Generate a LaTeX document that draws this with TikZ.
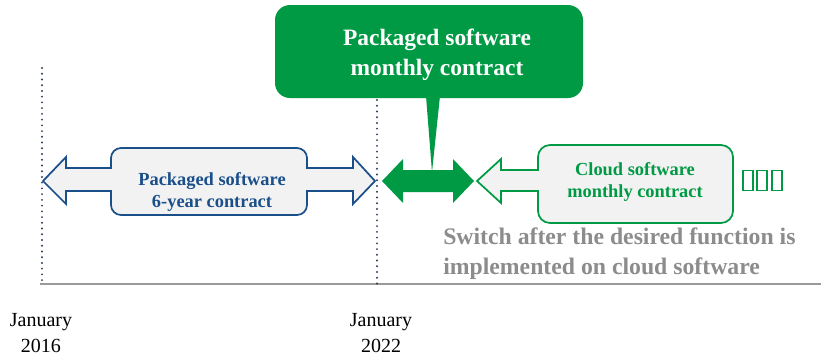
\documentclass[tikz,border=0pt]{standalone}
\usepackage{fontspec}
\setmainfont{Liberation Serif}
\definecolor{grn}{HTML}{009A44}
\definecolor{blu}{HTML}{1B4F8A}
\definecolor{lgray}{HTML}{F2F2F2}
\definecolor{txtgray}{HTML}{8C8C8C}
\definecolor{dotc}{HTML}{2E3C5C}
\definecolor{axisc}{HTML}{9A9A9A}
\tikzset{
  dotline/.style={dotc,line width=1.6pt,line cap=round,dash pattern=on 0pt off 4.3pt},
  bluetxt/.style={blu,align=center,inner sep=0pt,font=\bfseries\fontsize{13.8}{17.2}\selectfont},
  grntxt/.style={grn,align=center,inner sep=0pt,font=\bfseries\fontsize{13.8}{16.5}\selectfont},
  calltxt/.style={white,align=center,inner sep=0pt,font=\bfseries\fontsize{17.6}{22.5}\selectfont},
  graytxt/.style={txtgray,align=left,inner sep=0pt,font=\bfseries\fontsize{17.8}{22.5}\selectfont},
  datetxt/.style={black,align=center,inner sep=0pt,font=\fontsize{15}{19.5}\selectfont},
  tofu/.style={draw=grn,line width=1.3pt,inner sep=0pt,minimum width=7.6pt,minimum height=15pt},
}
\begin{document}
\begin{tikzpicture}[x=0.75pt,y=-0.75pt]
\useasboundingbox (0,0) rectangle (821,355);
% timeline
\draw[axisc,line width=1.6pt] (40,284) -- (821,284);
\coordinate (d1t) at (42,68); \coordinate (d1b) at (42,285);
\coordinate (d2t) at (377,100); \coordinate (d2b) at (377,285);
\draw[dotline] (d1t) -- (d1b);
\draw[dotline] (d2t) -- (d2b);
% blue double arrow with box
\draw[blu,fill=lgray,line width=1.3pt,line join=miter]
 (43,181) -- (66,157) -- (66,168) -- (111,168) -- (111,158)
 .. controls (111,152.5) and (115.5,148) .. (121,148) -- (297,148)
 .. controls (302.5,148) and (307,152.5) .. (307,158) -- (307,168) -- (353,168) -- (353,157)
 -- (375,181) -- (353,204) -- (353,191) -- (307,191) -- (307,205)
 .. controls (307,210.5) and (302.5,215) .. (297,215) -- (121,215)
 .. controls (115.5,215) and (111,210.5) .. (111,205) -- (111,191) -- (66,191) -- (66,204) -- cycle;
\node[bluetxt] (pkg6) at (212,192) {Packaged software\\6-year contract};
% green callout
\fill[grn] (426,96) -- (440,96) -- (432,172) -- cycle;
\fill[grn] (275,20) .. controls (275,11.7) and (281.7,5) .. (290,5) -- (568,5)
 .. controls (576.3,5) and (583,11.7) .. (583,20) -- (583,83)
 .. controls (583,91.3) and (576.3,98) .. (568,98) -- (290,98)
 .. controls (281.7,98) and (275,91.3) .. (275,83) -- cycle;
\node[calltxt] (pkgm) at (437,55) {Packaged software\\monthly contract};
% green solid double arrow
\fill[grn] (382,181) -- (403,159) -- (403,170) -- (453,170) -- (453,159) -- (474,181)
 -- (453,203) -- (453,192) -- (403,192) -- (403,203) -- cycle;
% cloud arrow with box
\draw[grn,fill=lgray,line width=1.3pt]
 (477,181) -- (501,159) -- (501,170) -- (538,170) -- (538,157)
 .. controls (538,150.4) and (543.4,145) .. (550,145) -- (721,145)
 .. controls (727.6,145) and (733,150.4) .. (733,157) -- (733,211)
 .. controls (733,217.6) and (727.6,223) .. (721,223) -- (550,223)
 .. controls (543.4,223) and (538,217.6) .. (538,211) -- (538,191) -- (501,191) -- (501,203) -- cycle;
\node[grntxt] (cloud) at (635,182) {Cloud software\\monthly contract};
\node[tofu] (t1) at (748,180.5) {};
\node[tofu] (t2) at (762,180.5) {};
\node[tofu] (t3) at (777,180.5) {};
% gray note
\node[graytxt,anchor=west] (note) at (443,254) {Switch after the desired function is\\implemented on cloud software};
% dates
\node[datetxt] (jan16) at (41,333) {January\\2016};
\node[datetxt] (jan22) at (381,333) {January\\2022};
\end{tikzpicture}
\end{document}
